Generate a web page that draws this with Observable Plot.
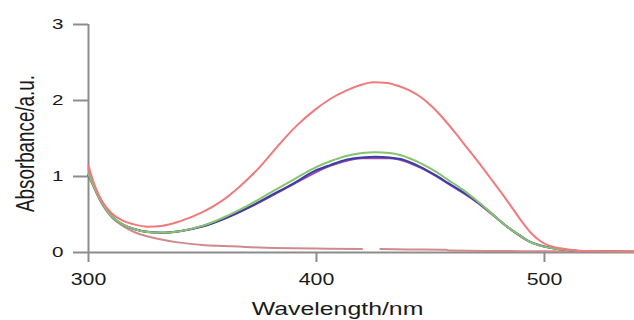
<!DOCTYPE html>
<html>
<head>
<meta charset="utf-8">
<script src="https://cdn.jsdelivr.net/npm/d3@7"></script>
<script src="https://cdn.jsdelivr.net/npm/@observablehq/plot@0.6"></script>
<style>
  html, body { margin: 0; padding: 0; background: #fff; }
  #chart { width: 634px; height: 320px; overflow: hidden; }
</style>
</head>
<body>
<div id="chart"></div>
<script>
// ---- Data ----
const xTicks = [300, 400, 500];
const yTicks = [0, 1, 2, 3];
const xTitle = "Wavelength/nm";
const yTitle = "Absorbance/a.u.";

const wlRed  = [300, 303, 306, 310, 315, 320, 326, 332, 340, 350, 358, 366, 375, 383, 391, 399, 406, 413, 419, 425, 431, 436, 441, 446, 451, 456, 461, 466, 471, 476, 481, 486, 490, 494, 498, 502, 507, 513, 520, 540];
const absRed = [1.14, 0.86, 0.67, 0.52, 0.42, 0.37, 0.34, 0.35, 0.41, 0.53, 0.67, 0.86, 1.12, 1.40, 1.66, 1.87, 2.02, 2.13, 2.20, 2.24, 2.23, 2.19, 2.13, 2.04, 1.91, 1.75, 1.57, 1.38, 1.19, 0.99, 0.79, 0.58, 0.41, 0.26, 0.155, 0.09, 0.055, 0.03, 0.015, 0.01];

const wlGreen  = [300, 305, 310, 315, 320, 326, 332, 340, 350, 360, 370, 380, 390, 399, 406, 413, 420, 426, 432, 437, 446, 452, 458, 464, 470, 477, 484, 489, 493, 498, 506, 515, 540];
const absGreen = [1.03, 0.70, 0.48, 0.37, 0.31, 0.27, 0.26, 0.28, 0.35, 0.47, 0.62, 0.79, 0.96, 1.11, 1.20, 1.27, 1.31, 1.32, 1.31, 1.28, 1.17, 1.07, 0.95, 0.83, 0.69, 0.51, 0.33, 0.23, 0.15, 0.09, 0.045, 0.02, 0.01];

const wlBlue  = [300, 305, 310, 315, 320, 326, 332, 340, 350, 360, 370, 380, 390, 399, 406, 413, 420, 426, 432, 437, 446, 452, 458, 464, 470, 477, 484, 489, 493, 498, 506, 515, 540];
const absBlue = [1.02, 0.70, 0.48, 0.37, 0.31, 0.27, 0.26, 0.28, 0.34, 0.45, 0.59, 0.75, 0.91, 1.07, 1.15, 1.22, 1.25, 1.26, 1.25, 1.23, 1.12, 1.02, 0.91, 0.80, 0.68, 0.51, 0.33, 0.23, 0.15, 0.09, 0.045, 0.02, 0.01];

const wlPurple  = [300, 310, 320, 332, 345, 360, 375, 390, 406, 420, 432, 446, 458, 470, 484, 493, 505, 515, 525, 540];
const absPurple = [1.02, 0.48, 0.31, 0.26, 0.31, 0.45, 0.66, 0.90, 1.14, 1.24, 1.24, 1.11, 0.90, 0.67, 0.33, 0.15, 0.05, 0.02, 0.015, 0.01];

const wlRose  = [300, 303, 306, 310, 315, 320, 326, 332, 340, 350, 360, 375, 390, 405, 420, 421, 427, 428, 440, 457, 458, 480, 500, 540];
const absRose = [1.10, 0.82, 0.63, 0.47, 0.35, 0.27, 0.21, 0.17, 0.13, 0.10, 0.085, 0.065, 0.055, 0.05, 0.045, NaN, NaN, 0.045, 0.04, 0.035, 0.025, 0.02, 0.015, 0.01];

const toRows = (wl, ab) => wl.map((w, i) => ({wl: w, abs: ab[i]}));
const series = [
  {rows: toRows(wlPurple, absPurple), color: "#9a4aa8"},
  {rows: toRows(wlRose, absRose),     color: "#cf8a8e"},
  {rows: toRows(wlBlue, absBlue),     color: "#3c3ca6"},
  {rows: toRows(wlGreen, absGreen),   color: "#86c46e"},
  {rows: toRows(wlRed, absRed),       color: "#f27a7c"}
];

const axisColor = "#8c8c8c";
const FONT = "'Liberation Sans', Arial, Helvetica, sans-serif";

const plot = Plot.plot({
  width: 634,
  height: 320,
  marginLeft: 88,
  marginRight: 0,
  marginTop: 24,
  marginBottom: 68,
  style: {fontFamily: FONT, background: "#fff", color: "#1a1a1a", overflow: "visible"},
  x: {domain: [300, 539.5]},
  y: {domain: [0, 3]},
  marks: [
    Plot.ruleY([0], {stroke: axisColor, strokeWidth: 2}),
    Plot.ruleX([{x: 300, y1: 0, y2: 3}], {x: "x", y1: "y1", y2: "y2", stroke: axisColor, strokeWidth: 2}),
    Plot.axisY({ticks: yTicks, tickSize: 15, tickPadding: 10, tickFormat: d => String(d), stroke: axisColor, strokeWidth: 2, fill: "#1a1a1a", fontSize: 15.5, label: null}),
    Plot.axisX({ticks: xTicks, tickSize: 10, tickPadding: 11, tickFormat: d => String(d), stroke: axisColor, strokeWidth: 2, fill: "#1a1a1a", fontSize: 16, label: null}),
    ...series.map(s => Plot.line(s.rows, {x: "wl", y: "abs", stroke: s.color, strokeWidth: 2, curve: "monotone-x"})),
    Plot.text([yTitle], {text: d => d, frameAnchor: "left", textAnchor: "middle", lineAnchor: "middle", rotate: -90, dx: -63, dy: 5, fontSize: 18.8, fill: "#1a1a1a"}),
    Plot.text([xTitle], {text: d => d, frameAnchor: "bottom", textAnchor: "middle", lineAnchor: "middle", dx: -24, dy: 57, fontSize: 18.7, fill: "#1a1a1a"})
  ]
});

document.getElementById("chart").appendChild(plot);

// The reference's lettering is horizontally widened; reproduce that.
const STRETCH = 1.33;
d3.select(plot).selectAll("text").each(function() {
  const t = this.getAttribute("transform") || "";
  if (t.includes("rotate")) {
    this.setAttribute("transform", t + " scale(1," + STRETCH + ")");
  } else {
    const len = this.getComputedTextLength();
    this.setAttribute("textLength", (len * STRETCH).toFixed(2));
    this.setAttribute("lengthAdjust", "spacingAndGlyphs");
  }
});
</script>
</body>
</html>
